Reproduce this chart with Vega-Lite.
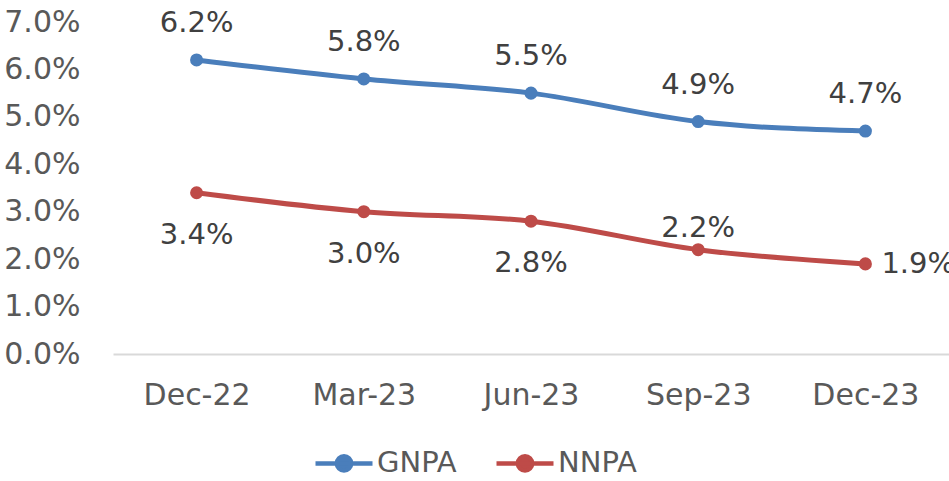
{
  "$schema": "https://vega.github.io/schema/vega-lite/v6.json",
  "autosize": "none",
  "width": 836,
  "height": 332,
  "padding": {"left": 113, "top": 22, "right": 0, "bottom": 127},
  "config": {
    "view": {"stroke": null},
    "font": "DejaVu Sans",
    "axis": {"grid": false, "ticks": false, "labelFont": "DejaVu Sans", "labelColor": "#595959", "title": null}
  },
  "data": {
    "values": [
      {"date": "Dec-22", "series": "GNPA", "value": 0.062},
      {"date": "Mar-23", "series": "GNPA", "value": 0.058},
      {"date": "Jun-23", "series": "GNPA", "value": 0.055},
      {"date": "Sep-23", "series": "GNPA", "value": 0.049},
      {"date": "Dec-23", "series": "GNPA", "value": 0.047},
      {"date": "Dec-22", "series": "NNPA", "value": 0.034},
      {"date": "Mar-23", "series": "NNPA", "value": 0.030},
      {"date": "Jun-23", "series": "NNPA", "value": 0.028},
      {"date": "Sep-23", "series": "NNPA", "value": 0.022},
      {"date": "Dec-23", "series": "NNPA", "value": 0.019}
    ]
  },
  "encoding": {
    "x": {
      "field": "date", "type": "ordinal", "sort": null,
      "scale": {"type": "point", "padding": 0.5},
      "axis": {"labelAngle": 0, "labelFontSize": 30, "labelPadding": 26, "domainColor": "#D9D9D9", "domainWidth": 2}
    },
    "y": {
      "field": "value", "type": "quantitative",
      "scale": {"domain": [0, 0.07], "nice": false},
      "axis": {"values": [0, 0.01, 0.02, 0.03, 0.04, 0.05, 0.06, 0.07], "format": ".1%", "domain": false, "labelFontSize": 30, "labelPadding": 33}
    },
    "color": {
      "field": "series", "type": "nominal",
      "scale": {"domain": ["GNPA", "NNPA"], "range": ["#4A7EBB", "#BE4B48"]}
    }
  },
  "layer": [
    {
      "mark": {"type": "line", "strokeWidth": 5, "interpolate": "monotone"},
      "encoding": {
        "color": {
          "field": "series", "type": "nominal",
          "legend": {
            "orient": "none", "legendX": 200, "legendY": 410, "direction": "horizontal",
            "title": null, "labelFontSize": 29, "labelColor": "#595959", "labelFont": "DejaVu Sans",
            "symbolType": "M-1,0H1M0.25,0A0.25,0.25 0 1,1 -0.25,0A0.25,0.25 0 1,1 0.25,0Z",
            "symbolSize": 3249, "symbolStrokeWidth": 4.5, "labelOffset": 2, "columnPadding": 30,
            "encode": {"symbols": {"update": {"fill": {"scale": "color", "field": "value"}}}}
          }
        }
      }
    },
    {
      "mark": {"type": "point", "filled": true, "size": 170, "opacity": 1},
      "encoding": {"color": {"field": "series", "type": "nominal", "legend": null}}
    },
    {
      "transform": [{"filter": "datum.series === 'GNPA'"}],
      "mark": {"type": "text", "fontSize": 29, "dy": -37, "baseline": "middle"},
      "encoding": {"text": {"field": "value", "type": "quantitative", "format": ".1%"}, "color": {"value": "#404040"}}
    },
    {
      "transform": [{"filter": "datum.series === 'NNPA' && (datum.date === 'Dec-22' || datum.date === 'Mar-23' || datum.date === 'Jun-23')"}],
      "mark": {"type": "text", "fontSize": 29, "dy": 42, "baseline": "middle"},
      "encoding": {"text": {"field": "value", "type": "quantitative", "format": ".1%"}, "color": {"value": "#404040"}}
    },
    {
      "transform": [{"filter": "datum.series === 'NNPA' && datum.date === 'Sep-23'"}],
      "mark": {"type": "text", "fontSize": 29, "dy": -22, "baseline": "middle"},
      "encoding": {"text": {"field": "value", "type": "quantitative", "format": ".1%"}, "color": {"value": "#404040"}}
    },
    {
      "transform": [{"filter": "datum.series === 'NNPA' && datum.date === 'Dec-23'"}],
      "mark": {"type": "text", "fontSize": 29, "dx": 16, "align": "left", "baseline": "middle"},
      "encoding": {"text": {"field": "value", "type": "quantitative", "format": ".1%"}, "color": {"value": "#404040"}}
    }
  ]
}
